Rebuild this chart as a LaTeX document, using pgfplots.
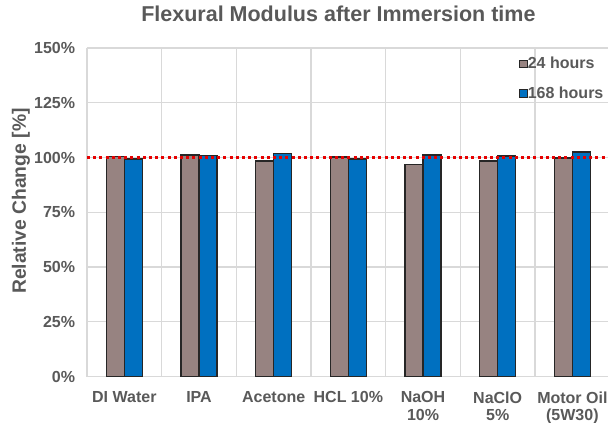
\documentclass[border=0pt]{standalone}
\usepackage{pgfplots}
\pgfplotsset{compat=1.18}
\usepackage{fontspec}
\setmainfont{Liberation Sans}
\definecolor{txt}{RGB}{89,89,89}
\definecolor{gridc}{RGB}{217,217,217}
\definecolor{barg}{RGB}{151,131,129}
\definecolor{barb}{RGB}{0,112,192}
\definecolor{edge}{RGB}{38,38,38}
\definecolor{redl}{RGB}{230,0,0}
\begin{document}
\begin{tikzpicture}
\useasboundingbox (-87bp,-46.5bp) rectangle (521bp,376.5bp);
\begin{axis}[
  at={(0,0)}, anchor=south west,
  scale only axis, width=522.7bp, height=328.5bp,
  xmin=-0.5, xmax=6.5, ymin=0, ymax=150,
  axis line style={draw=none},
  ybar=0pt, bar width=18bp,
  xtick={0,...,6},
  xticklabels={{DI Water},{IPA},{Acetone},{HCL 10\%},{NaOH\\10\%},{NaClO\\5\%},{Motor Oil\\(5W30)}},
  minor xtick={-0.5,0.5,...,6.5},
  xminorgrids=true, xmajorgrids=false,
  ytick={0,25,...,150},
  ymajorgrids=true,
  grid style={draw=gridc, line width=1.3bp},
  minor grid style={draw=gridc, line width=1.3bp},
  major tick length=0pt, minor tick length=0pt,
  /pgf/number format/assume math mode=true,
  yticklabel={\pgfmathprintnumber{\tick}\%},
  ticklabel style={font=\fontsize{16bp}{17.6bp}\selectfont\bfseries, text=txt},
  xticklabel style={align=center, yshift=-11.5bp},
  yticklabel style={xshift=-8.4bp},
  ylabel={Relative Change [\%]},
  ylabel style={at={(axis description cs:-0.1167,0.534)}, anchor=base, font=\fontsize{19.3bp}{22bp}\selectfont\bfseries, text=txt},
  title={Flexural Modulus after Immersion time},
  title style={at={(axis description cs:0.481,1.0639)}, anchor=base, font=\fontsize{21.5bp}{24bp}\selectfont\bfseries, text=txt},
  legend style={at={(axis description cs:0.8265,0.972)}, anchor=north west, draw=none, fill=none, inner sep=0pt, row sep=16.5bp,
    font=\fontsize{16bp}{18bp}\selectfont\bfseries, text=txt,
    nodes={inner sep=0pt}, column sep=0pt},
  legend cell align=left,
  legend image code/.code={\draw[#1, line width=1.2bp] (0bp,-3.7bp) rectangle (7.4bp,3.7bp);},
]
\addplot[fill=barg, draw=edge, line width=1.6bp] coordinates {(0,100.5) (1,101.2) (2,98.4) (3,100.1) (4,96.8) (5,98.4) (6,99.8)};
\addplot[fill=barb, draw=edge, line width=1.6bp] coordinates {(0,99.2) (1,100.9) (2,101.8) (3,99.3) (4,101.2) (5,100.8) (6,102.6)};
\legend{24 hours,168 hours}
\addplot[sharp plot, draw=redl, line width=3bp, dash pattern=on 3bp off 3.2bp, forget plot] coordinates {(-0.5,100) (6.5,100)};
\end{axis}
\end{tikzpicture}
\end{document}
